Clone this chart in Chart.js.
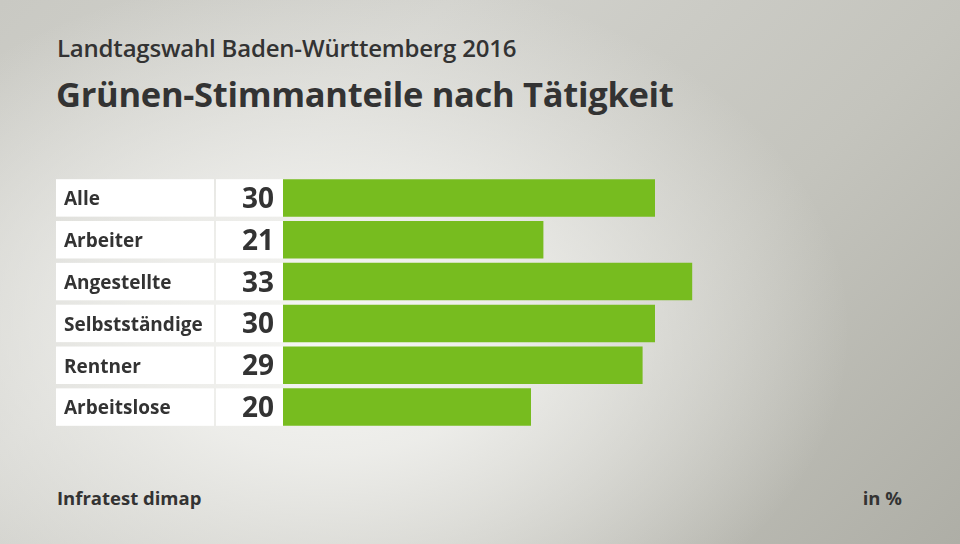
<!DOCTYPE html>
<html>
<head>
<meta charset="utf-8">
<script src="https://cdn.jsdelivr.net/npm/chart.js@4"></script>
<style>
  html, body { margin: 0; padding: 0; }
  body {
    width: 960px; height: 544px; overflow: hidden; position: relative;
    font-family: "Open Sans", "Noto Sans", sans-serif; color: #333;
    background:
      radial-gradient(ellipse 520px 360px at 330px 330px, rgba(246,246,244,1) 0%, rgba(240,240,237,0.9) 35%, rgba(240,240,237,0) 100%),
      linear-gradient(135deg, #c9c9c3 0%, #d2d2cd 30%, #c4c4bd 65%, #aeaea6 100%);
  }
  .sub { position: absolute; left: 57px; top: 31px; font-size: 24px; font-weight: 600; letter-spacing: -0.2px; }
  .title { position: absolute; left: 56px; top: 70px; font-size: 34.5px; font-weight: 700; letter-spacing: -0.3px; }
  .src { position: absolute; left: 57px; top: 485px; font-size: 18.5px; font-weight: 700; }
  .unit { position: absolute; right: 58px; top: 485px; font-size: 18.5px; font-weight: 700; }
  #wrap { position: absolute; left: 0; top: 0; width: 960px; height: 544px; }
</style>
</head>
<body>
<div class="sub">Landtagswahl Baden-Württemberg 2016</div>
<div class="title">Grünen-Stimmanteile nach Tätigkeit</div>
<div class="src">Infratest dimap</div>
<div class="unit">in %</div>
<div id="wrap"><canvas id="chart" width="960" height="544"></canvas></div>
<script>
const categories = ["Alle", "Arbeiter", "Angestellte", "Selbstständige", "Rentner", "Arbeitslose"];
const values = [30, 21, 33, 30, 29, 20];

// white label and value boxes next to each bar
const rowBoxes = {
  id: "rowBoxes",
  beforeDatasetsDraw(chart) {
    const ctx = chart.ctx;
    const meta = chart.getDatasetMeta(0);
    ctx.save();
    meta.data.forEach((bar, i) => {
      const h = bar.height;
      const top = bar.y - h / 2;
      ctx.fillStyle = "#ffffff";
      ctx.fillRect(56, top, 158, h);
      ctx.fillRect(216, top, 67, h);
      ctx.fillStyle = "#333333";
      ctx.textBaseline = "middle";
      ctx.textAlign = "left";
      ctx.font = "700 19px 'Open Sans', 'Noto Sans', sans-serif";
      ctx.fillText(categories[i], 64, bar.y + 2);
      ctx.textAlign = "right";
      ctx.font = "700 28px 'Open Sans', 'Noto Sans', sans-serif";
      ctx.fillText(values[i], 274, bar.y + 2);
    });
    ctx.restore();
  }
};

new Chart(document.getElementById("chart"), {
  type: "bar",
  data: {
    labels: categories,
    datasets: [{
      data: values,
      backgroundColor: "#77bc1f",
      barPercentage: 0.895,
      categoryPercentage: 1,
    }],
  },
  options: {
    indexAxis: "y",
    responsive: false,
    animation: false,
    devicePixelRatio: 1,
    layout: { padding: { left: 283, right: 57, top: 177, bottom: 116 } },
    plugins: { legend: { display: false }, tooltip: { enabled: false } },
    scales: {
      x: { min: 0, max: 50, display: false },
      y: { display: false },
    },
  },
  plugins: [rowBoxes],
});
</script>
</body>
</html>
